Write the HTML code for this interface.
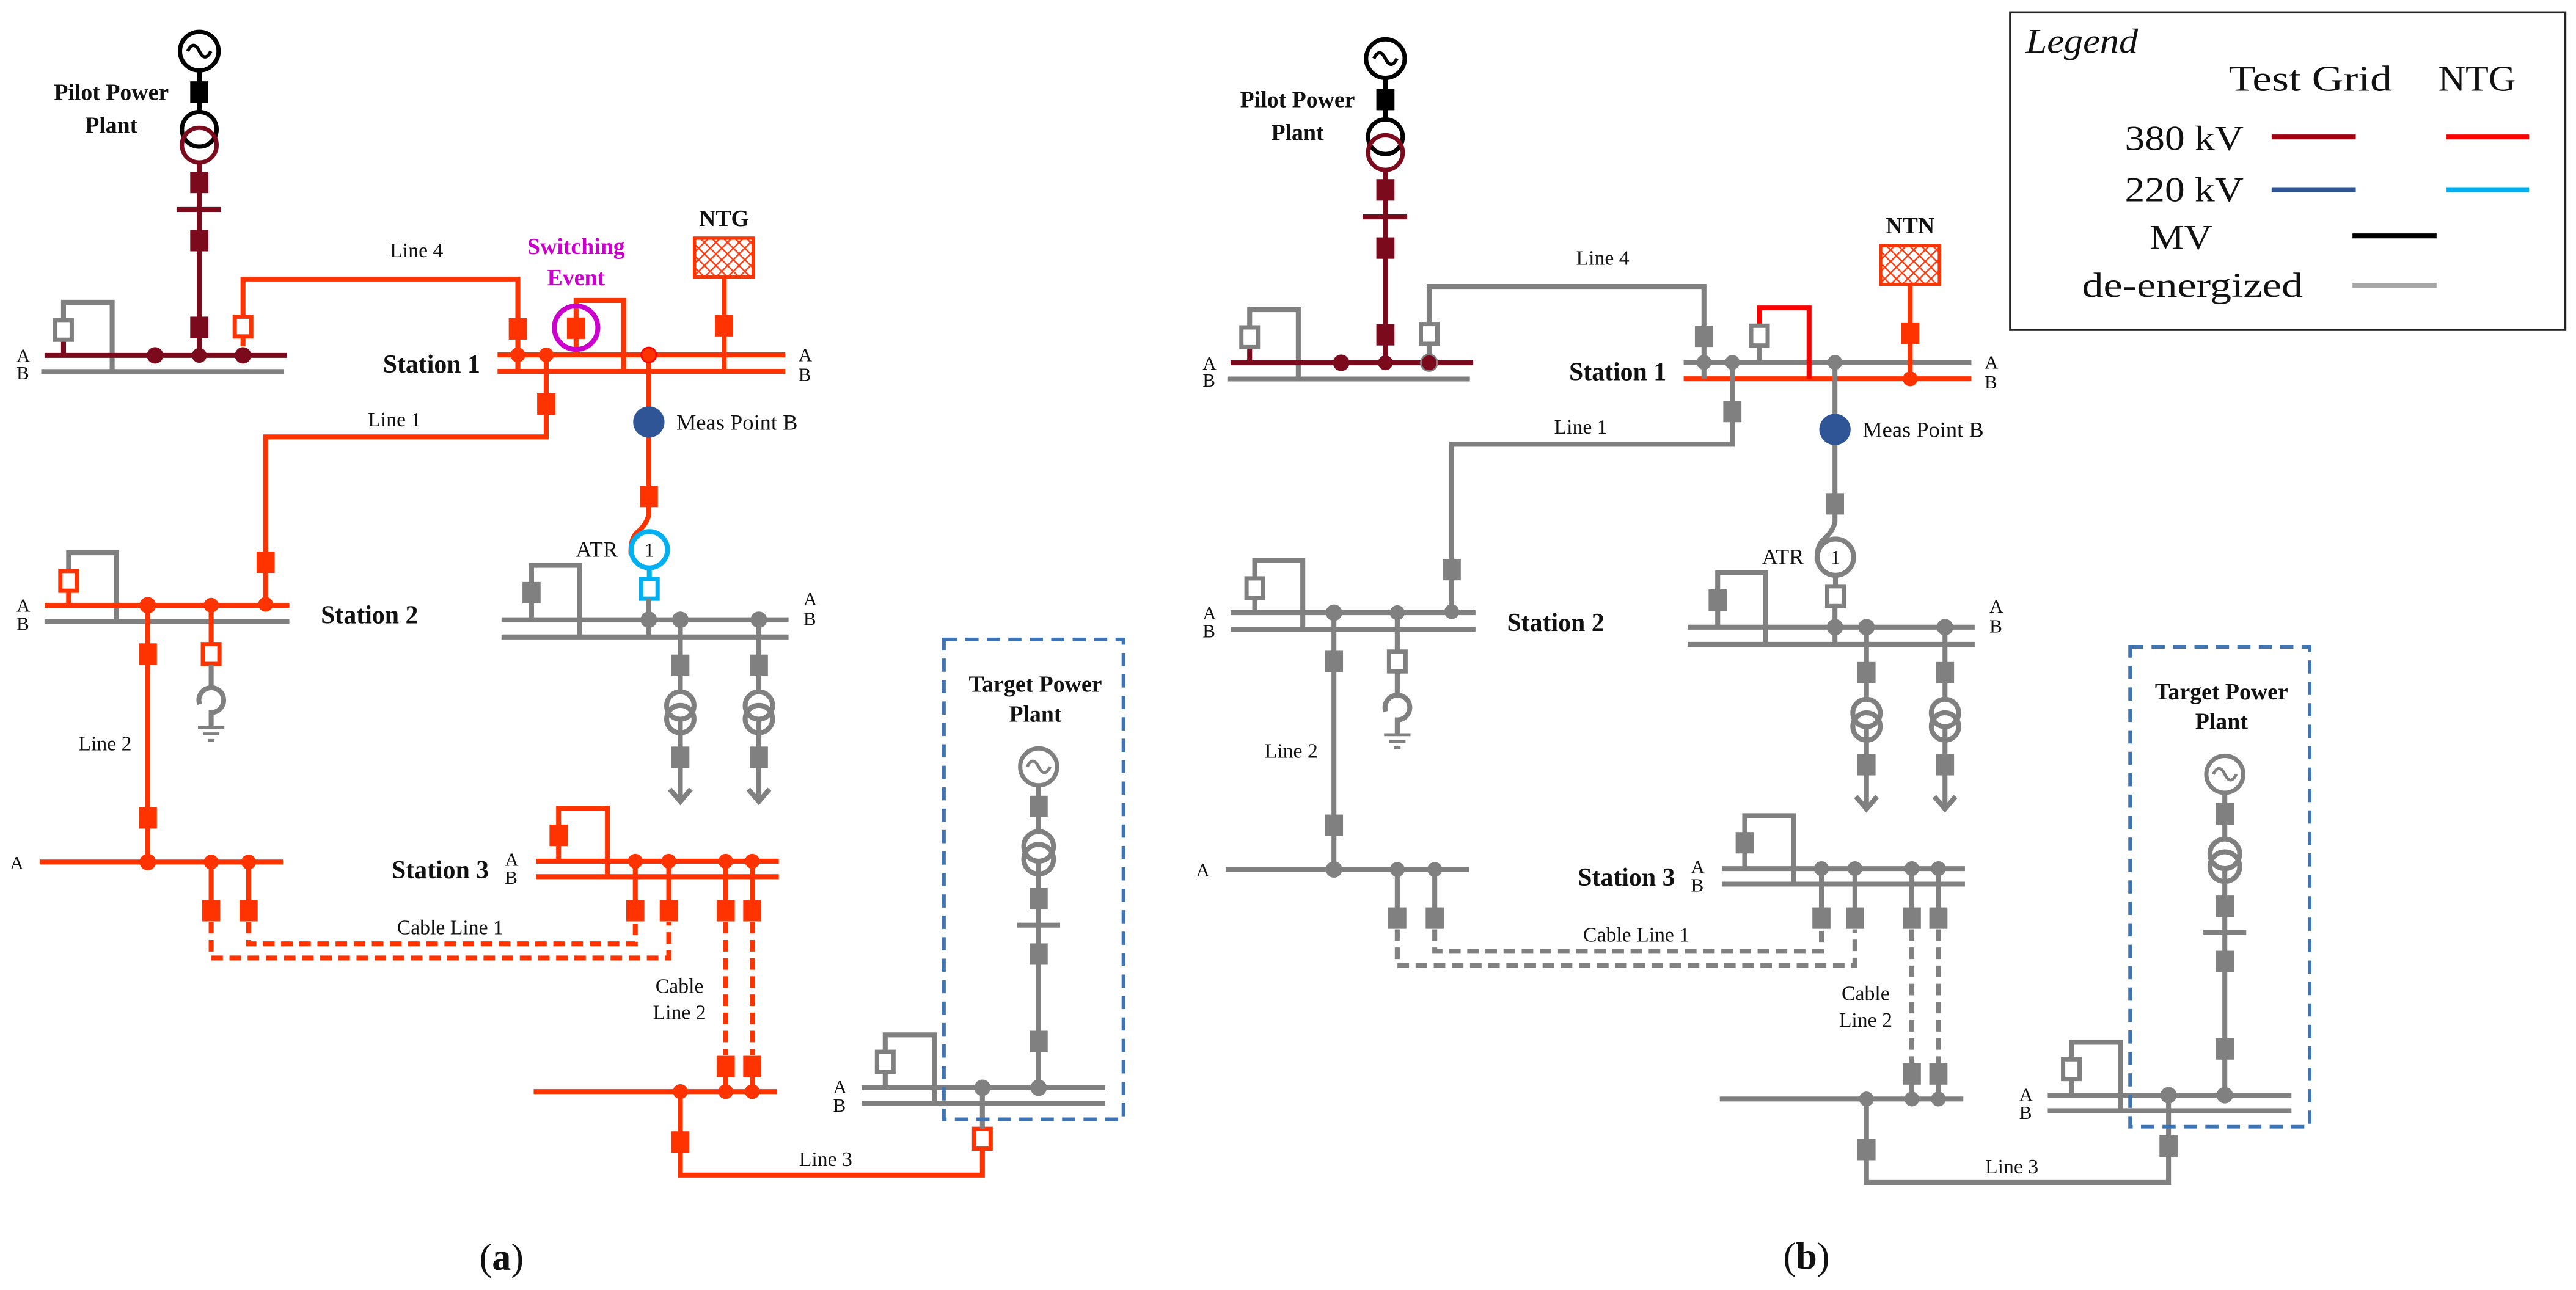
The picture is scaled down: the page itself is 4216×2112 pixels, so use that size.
<!DOCTYPE html>
<html><head><meta charset="utf-8"><style>
html,body{margin:0;padding:0;background:#fff;}
svg{display:block;}
text{font-family:"Liberation Serif",serif;fill:#111;}
.b{font-weight:bold;}
</style></head><body>
<svg width="4216" height="2112" viewBox="0 0 1561.5 782.2" xmlns="http://www.w3.org/2000/svg">
<defs>
<pattern id="hatch" width="7" height="7" patternUnits="userSpaceOnUse">
<path d="M0,0 L7,7 M7,0 L0,7" stroke="#ff3b10" stroke-width="0.9"/>
</pattern>
</defs>
<rect width="1561.5" height="782.2" fill="#fff"/>

<!-- ================= LEFT (a) ================= -->
<g id="left" stroke-width="3" fill="none">
<!-- Pilot -->
<circle cx="120.8" cy="31" r="11.7" stroke="#000" stroke-width="2.6"/>
<path d="M113.8,31 Q117.3,24 120.8,31 T127.8,31" stroke="#000" stroke-width="2"/>
<line x1="120.8" y1="43" x2="120.8" y2="68" stroke="#000"/>
<rect x="115.3" y="49.3" width="11" height="13" fill="#000" stroke="none"/>
<circle cx="120.8" cy="78.4" r="10.5" stroke="#000" stroke-width="2.6"/>
<circle cx="120.8" cy="88" r="10.5" stroke="#7b0a1c" stroke-width="2.6"/>
<line x1="120.8" y1="98.5" x2="120.8" y2="215.5" stroke="#7b0a1c"/>
<rect x="115.3" y="104.1" width="11" height="13" fill="#7b0a1c" stroke="none"/>
<rect x="115.3" y="139.4" width="11" height="13" fill="#7b0a1c" stroke="none"/>
<rect x="115.3" y="192" width="11" height="13" fill="#7b0a1c" stroke="none"/>
<line x1="107" y1="127" x2="134" y2="127" stroke="#7b0a1c"/>
<line x1="25" y1="225.3" x2="172" y2="225.3" stroke="#808080"/>
<path d="M38.5,194 V183.3 H68 V225.3" stroke="#808080"/>
<line x1="38.5" y1="206" x2="38.5" y2="215.5" stroke="#7b0a1c"/>
<rect x="33.5" y="194" width="10" height="12" fill="#fff" stroke="#808080" stroke-width="2.6"/>
<line x1="27" y1="215.5" x2="174" y2="215.5" stroke="#7b0a1c"/>
<circle cx="94" cy="215.5" r="5" fill="#7b0a1c" stroke="none"/>
<circle cx="120.8" cy="215.5" r="4.5" fill="#7b0a1c" stroke="none"/>
<circle cx="147.3" cy="215.5" r="5" fill="#7b0a1c" stroke="none"/>
<!-- Line 4 -->
<path d="M147.3,210 V169.2 H313.9 V215.2" stroke="#ff3300"/>
<rect x="142.3" y="192" width="10" height="12" fill="#fff" stroke="#ff3300" stroke-width="2.6"/>
<rect x="308.4" y="192.9" width="11" height="13" fill="#ff3300" stroke="none"/>
<!-- Station 1 -->
<line x1="301.6" y1="215.2" x2="476" y2="215.2" stroke="#ff3300"/>
<line x1="301.6" y1="225.2" x2="476" y2="225.2" stroke="#ff3300"/>
<line x1="313.9" y1="215" x2="313.9" y2="225.2" stroke="#ff3300"/>
<circle cx="313.9" cy="215.2" r="4.5" fill="#ff3300" stroke="none"/>
<circle cx="331.1" cy="215.2" r="4.5" fill="#ff3300" stroke="none"/>
<path d="M331.1,215.2 V264.9 H161 V366.4" stroke="#ff3300"/>
<rect x="325.6" y="238.5" width="11" height="13" fill="#ff3300" stroke="none"/>
<rect x="155.5" y="334.4" width="11" height="13" fill="#ff3300" stroke="none"/>
<path d="M349.2,215.2 V182.2 H378 V225.2" stroke="#ff3300"/>
<rect x="343.7" y="192.5" width="11" height="13" fill="#ff3300" stroke="none"/>
<circle cx="349.2" cy="198.7" r="13.2" stroke="#cc00cc" stroke-width="3"/>
<line x1="393.3" y1="215.2" x2="393.3" y2="307" stroke="#ff3300"/>
<circle cx="393.3" cy="215.2" r="4.5" fill="#ff3300" stroke="#ff0000" stroke-width="1"/>
<rect x="387.8" y="294.5" width="11" height="13" fill="#ff3300" stroke="none"/>
<path d="M393.3,307 V312 Q392,318 386,323 Q382,327 382.5,336" stroke="#ff3300"/>
<circle cx="393.6" cy="333.3" r="11" stroke="#00b0f0" stroke-width="3"/>
<line x1="393.6" y1="344" x2="393.6" y2="351" stroke="#00b0f0"/>
<rect x="388.6" y="351" width="10" height="12" fill="#fff" stroke="#00b0f0" stroke-width="2.6"/>
<line x1="393.3" y1="363" x2="393.3" y2="386.2" stroke="#808080"/>
<circle cx="393.3" cy="255.9" r="9.5" fill="#2f5597" stroke="none"/>
<!-- NTG -->
<rect x="421" y="144.4" width="35.6" height="23.5" fill="url(#hatch)" stroke="#ff3300" stroke-width="2"/>
<line x1="438.9" y1="168" x2="438.9" y2="225.2" stroke="#ff3300"/>
<rect x="433.4" y="191" width="11" height="13" fill="#ff3300" stroke="none"/>
<!-- Middle station (ATR) -->
<line x1="304" y1="375.8" x2="478" y2="375.8" stroke="#808080"/>
<line x1="304" y1="386.2" x2="478" y2="386.2" stroke="#808080"/>
<path d="M322.2,375.8 V342.8 H351.3 V386.2" stroke="#808080"/>
<rect x="316.7" y="352.9" width="11" height="13" fill="#808080" stroke="none"/>
<circle cx="393.3" cy="375.8" r="5" fill="#808080" stroke="none"/>
<circle cx="412.4" cy="375.8" r="5" fill="#808080" stroke="none"/>
<circle cx="460" cy="375.8" r="5" fill="#808080" stroke="none"/>
<g stroke="#808080">
<line x1="412.4" y1="375.8" x2="412.4" y2="485"/>
<rect x="406.9" y="396.9" width="11" height="13" fill="#808080" stroke="none"/>
<circle cx="412.4" cy="427.8" r="8.3" fill="#fff"/>
<circle cx="412.4" cy="436" r="8.3"/>
<rect x="406.9" y="452.7" width="11" height="13" fill="#808080" stroke="none"/>
<path d="M406,478.5 L412.4,486 L418.8,478.5"/>
<line x1="460" y1="375.8" x2="460" y2="485"/>
<rect x="454.5" y="396.9" width="11" height="13" fill="#808080" stroke="none"/>
<circle cx="460" cy="427.8" r="8.3" fill="#fff"/>
<circle cx="460" cy="436" r="8.3"/>
<rect x="454.5" y="452.7" width="11" height="13" fill="#808080" stroke="none"/>
<path d="M453.6,478.5 L460,486 L466.4,478.5"/>
</g>
<!-- Station 2 -->
<line x1="27" y1="377" x2="175.4" y2="377" stroke="#808080"/>
<path d="M41.6,346 V335.2 H70.7 V377" stroke="#808080"/>
<line x1="41.6" y1="358" x2="41.6" y2="367" stroke="#ff3300"/>
<rect x="36.6" y="346.2" width="10" height="12" fill="#fff" stroke="#ff3300" stroke-width="2.6"/>
<line x1="27" y1="367" x2="175.4" y2="367" stroke="#ff3300"/>
<circle cx="89.6" cy="367" r="5" fill="#ff3300" stroke="none"/>
<circle cx="128" cy="367" r="4.5" fill="#ff3300" stroke="none"/>
<circle cx="161" cy="366.4" r="4.5" fill="#ff3300" stroke="none"/>
<line x1="89.6" y1="367" x2="89.6" y2="522.7" stroke="#ff3300"/>
<rect x="84.1" y="390.1" width="11" height="13" fill="#ff3300" stroke="none"/>
<rect x="84.1" y="489.4" width="11" height="13" fill="#ff3300" stroke="none"/>
<line x1="128" y1="367" x2="128" y2="391" stroke="#ff3300"/>
<rect x="123" y="390.6" width="10" height="12" fill="#fff" stroke="#ff3300" stroke-width="2.6"/>
<path d="M128,403 V416 M121,427 A7.5,7.5 0 1 1 128,432 V441" stroke="#808080"/>
<path d="M120,441 H136 M123,445 H133 M126,449 H130" stroke="#808080" stroke-width="1.8"/>
<!-- bottom A bus -->
<line x1="24" y1="522.7" x2="171.5" y2="522.7" stroke="#ff3300"/>
<circle cx="89.6" cy="522.7" r="5" fill="#ff3300" stroke="none"/>
<circle cx="128" cy="522.7" r="4.5" fill="#ff3300" stroke="none"/>
<circle cx="150.7" cy="522.7" r="4.5" fill="#ff3300" stroke="none"/>
<line x1="128" y1="522.7" x2="128" y2="552" stroke="#ff3300"/>
<line x1="150.7" y1="522.7" x2="150.7" y2="552" stroke="#ff3300"/>
<rect x="122.5" y="545.7" width="11" height="13" fill="#ff3300" stroke="none"/>
<rect x="145.2" y="545.7" width="11" height="13" fill="#ff3300" stroke="none"/>
<g stroke="#ff3300" stroke-dasharray="7,4">
<path d="M128,559 V580.9 H405.4 V559"/>
<path d="M150.7,559 V572.3 H385.1 V559"/>
<line x1="439.9" y1="559" x2="439.9" y2="640"/>
<line x1="456" y1="559" x2="456" y2="640"/>
</g>
<!-- Station 3 -->
<line x1="324.8" y1="522.2" x2="472.1" y2="522.2" stroke="#ff3300"/>
<line x1="324.8" y1="531.6" x2="472.1" y2="531.6" stroke="#ff3300"/>
<path d="M338.6,522.2 V490.1 H368.2 V531.6" stroke="#ff3300"/>
<rect x="333.1" y="500" width="11" height="13" fill="#ff3300" stroke="none"/>
<g fill="#ff3300" stroke="none">
<circle cx="385.1" cy="522.2" r="4.5"/><circle cx="405.4" cy="522.2" r="4.5"/>
<circle cx="439.9" cy="522.2" r="4.5"/><circle cx="456" cy="522.2" r="4.5"/>
<rect x="379.6" y="545.7" width="11" height="13"/><rect x="399.9" y="545.7" width="11" height="13"/>
<rect x="434.4" y="545.7" width="11" height="13"/><rect x="450.5" y="545.7" width="11" height="13"/>
<rect x="434.4" y="640.2" width="11" height="13"/><rect x="450.5" y="640.2" width="11" height="13"/>
</g>
<g stroke="#ff3300">
<line x1="385.1" y1="522.2" x2="385.1" y2="552"/><line x1="405.4" y1="522.2" x2="405.4" y2="552"/>
<line x1="439.9" y1="522.2" x2="439.9" y2="552"/><line x1="456" y1="522.2" x2="456" y2="552"/>
<line x1="439.9" y1="650" x2="439.9" y2="661.9"/><line x1="456" y1="650" x2="456" y2="661.9"/>
<line x1="323.5" y1="661.9" x2="471.1" y2="661.9"/>
<path d="M412.4,661.9 V712.5 H595.5 V696"/>
</g>
<g fill="#ff3300" stroke="none">
<circle cx="412.4" cy="661.9" r="4.5"/><circle cx="439.9" cy="661.9" r="4.5"/><circle cx="456" cy="661.9" r="4.5"/>
<rect x="406.9" y="686" width="11" height="13"/>
</g>
<rect x="590.5" y="684.5" width="10" height="12" fill="#fff" stroke="#ff3300" stroke-width="2.6"/>
<!-- Target -->
<line x1="595.5" y1="659.6" x2="595.5" y2="684.5" stroke="#808080"/>
<line x1="522.3" y1="659.6" x2="670" y2="659.6" stroke="#808080"/>
<line x1="522.3" y1="669" x2="670" y2="669" stroke="#808080"/>
<path d="M536.6,659.6 V627.5 H566.4 V669" stroke="#808080"/>
<rect x="531.6" y="637.8" width="10" height="12" fill="#fff" stroke="#808080" stroke-width="2.6"/>
<circle cx="595.5" cy="659.6" r="5" fill="#808080" stroke="none"/>
<circle cx="629.6" cy="659.6" r="5" fill="#808080" stroke="none"/>
<g stroke="#808080">
<circle cx="629.6" cy="465" r="11.2" stroke-width="2.6"/>
<path d="M622.6,465 Q626.1,458 629.6,465 T636.6,465" stroke-width="1.8"/>
<line x1="629.6" y1="476" x2="629.6" y2="659.6"/>
<rect x="624.1" y="482.5" width="11" height="13" fill="#808080" stroke="none"/>
<circle cx="629.6" cy="513.2" r="9" fill="#fff"/>
<circle cx="629.6" cy="521" r="9"/>
<rect x="624.1" y="538.5" width="11" height="13" fill="#808080" stroke="none"/>
<line x1="616.6" y1="561" x2="642.6" y2="561"/>
<rect x="624.1" y="572" width="11" height="13" fill="#808080" stroke="none"/>
<rect x="624.1" y="625" width="11" height="13" fill="#808080" stroke="none"/>
</g>
<rect x="572.2" y="387.7" width="108.8" height="291" stroke="#3f74b3" stroke-width="2.2" stroke-dasharray="8,5"/>
</g>
<g font-size="12.5">
<text x="67.5" y="60.5" text-anchor="middle" class="b" font-size="14">Pilot Power</text>
<text x="67.5" y="80.5" text-anchor="middle" class="b" font-size="14">Plant</text>
<text x="236.4" y="156">Line 4</text>
<text x="349.2" y="154" text-anchor="middle" class="b" font-size="14" style="fill:#cc00cc">Switching</text>
<text x="349.2" y="173" text-anchor="middle" class="b" font-size="14" style="fill:#cc00cc">Event</text>
<text x="438.9" y="137" text-anchor="middle" class="b" font-size="14">NTG</text>
<text x="261.6" y="226" text-anchor="middle" class="b" font-size="15.5">Station 1</text>
<text x="484" y="219" font-size="11.5">A</text><text x="484" y="231" font-size="11.5">B</text>
<text x="10" y="219.5" font-size="11.5">A</text><text x="10" y="230" font-size="11.5">B</text>
<text x="239.2" y="258.5" text-anchor="middle">Line 1</text>
<text x="410" y="260.5" font-size="13.5">Meas Point B</text>
<text x="349" y="337.5" font-size="13.5">ATR</text>
<text x="393.6" y="337.5" text-anchor="middle" font-size="12">1</text>
<text x="487" y="367" font-size="11.5">A</text><text x="487" y="379" font-size="11.5">B</text>
<text x="10" y="371" font-size="11.5">A</text><text x="10" y="382" font-size="11.5">B</text>
<text x="224" y="378" text-anchor="middle" class="b" font-size="15.5">Station 2</text>
<text x="63.7" y="455" text-anchor="middle">Line 2</text>
<text x="6" y="527" font-size="11.5">A</text>
<text x="266.9" y="532.5" text-anchor="middle" class="b" font-size="15.5">Station 3</text>
<text x="306" y="525" font-size="11.5">A</text><text x="306" y="536" font-size="11.5">B</text>
<text x="272.9" y="566.5" text-anchor="middle">Cable Line 1</text>
<text x="411.9" y="602" text-anchor="middle">Cable</text>
<text x="411.9" y="618" text-anchor="middle">Line 2</text>
<text x="505" y="663" font-size="11.5">A</text><text x="505" y="674" font-size="11.5">B</text>
<text x="500.5" y="707" text-anchor="middle">Line 3</text>
<text x="627.6" y="419.5" text-anchor="middle" class="b" font-size="14">Target Power</text>
<text x="627.6" y="437.5" text-anchor="middle" class="b" font-size="14">Plant</text>
<text x="304" y="770" text-anchor="middle" font-size="23">(<tspan font-weight="bold">a</tspan>)</text>
</g>

<!-- ================= RIGHT (b) ================= -->
<g transform="translate(719,4.5)">
<g stroke-width="3" fill="none">
<circle cx="120.8" cy="31" r="11.7" stroke="#000" stroke-width="2.6"/>
<path d="M113.8,31 Q117.3,24 120.8,31 T127.8,31" stroke="#000" stroke-width="2"/>
<line x1="120.8" y1="43" x2="120.8" y2="68" stroke="#000"/>
<rect x="115.3" y="49.3" width="11" height="13" fill="#000" stroke="none"/>
<circle cx="120.8" cy="78.4" r="10.5" stroke="#000" stroke-width="2.6"/>
<circle cx="120.8" cy="88" r="10.5" stroke="#7b0a1c" stroke-width="2.6"/>
<line x1="120.8" y1="98.5" x2="120.8" y2="215.5" stroke="#7b0a1c"/>
<rect x="115.3" y="104.1" width="11" height="13" fill="#7b0a1c" stroke="none"/>
<rect x="115.3" y="139.4" width="11" height="13" fill="#7b0a1c" stroke="none"/>
<rect x="115.3" y="192" width="11" height="13" fill="#7b0a1c" stroke="none"/>
<line x1="107" y1="127" x2="134" y2="127" stroke="#7b0a1c"/>
<line x1="25" y1="225.3" x2="172" y2="225.3" stroke="#808080"/>
<path d="M38.5,194 V183.3 H68 V225.3" stroke="#808080"/>
<line x1="38.5" y1="206" x2="38.5" y2="215.5" stroke="#7b0a1c"/>
<rect x="33.5" y="194" width="10" height="12" fill="#fff" stroke="#808080" stroke-width="2.6"/>
<line x1="27" y1="215.5" x2="174" y2="215.5" stroke="#7b0a1c"/>
<circle cx="94" cy="215.5" r="5" fill="#7b0a1c" stroke="none"/>
<circle cx="120.8" cy="215.5" r="4.5" fill="#7b0a1c" stroke="none"/>
<circle cx="147.3" cy="215.5" r="5" fill="#7b0a1c" stroke="#808080" stroke-width="1"/>
<path d="M147.3,210 V169.2 H313.9 V215.2" stroke="#808080"/>
<rect x="142.3" y="192" width="10" height="12" fill="#fff" stroke="#808080" stroke-width="2.6"/>
<rect x="308.4" y="192.9" width="11" height="13" fill="#808080" stroke="none"/>
<line x1="301.6" y1="215.2" x2="476" y2="215.2" stroke="#808080"/>
<line x1="301.6" y1="225.2" x2="476" y2="225.2" stroke="#ff3300"/>
<line x1="313.9" y1="215" x2="313.9" y2="225.2" stroke="#808080"/>
<circle cx="313.9" cy="215.2" r="4.5" fill="#808080" stroke="none"/>
<circle cx="331.1" cy="215.2" r="4.5" fill="#808080" stroke="none"/>
<path d="M331.1,215.2 V264.9 H161 V366.4" stroke="#808080"/>
<rect x="325.6" y="238.5" width="11" height="13" fill="#808080" stroke="none"/>
<rect x="155.5" y="334.4" width="11" height="13" fill="#808080" stroke="none"/>
<path d="M347.5,193 V182.2 H377.6 V225.2" stroke="#ff0000"/>
<line x1="347.5" y1="204" x2="347.5" y2="215.2" stroke="#808080"/>
<rect x="342.5" y="193" width="10" height="12" fill="#fff" stroke="#808080" stroke-width="2.6"/>
<line x1="393.3" y1="215.2" x2="393.3" y2="307" stroke="#808080"/>
<circle cx="393.3" cy="215.2" r="4.5" fill="#808080" stroke="none"/>
<rect x="387.8" y="294.5" width="11" height="13" fill="#808080" stroke="none"/>
<path d="M393.3,307 V312 Q392,318 386,323 Q382,327 382.5,336" stroke="#808080"/>
<circle cx="393.6" cy="333.3" r="11" stroke="#808080" stroke-width="3"/>
<line x1="393.6" y1="344" x2="393.6" y2="351" stroke="#808080"/>
<rect x="388.6" y="351" width="10" height="12" fill="#fff" stroke="#808080" stroke-width="2.6"/>
<line x1="393.3" y1="363" x2="393.3" y2="386.2" stroke="#808080"/>
<circle cx="393.3" cy="255.9" r="9.5" fill="#2f5597" stroke="none"/>
<rect x="421" y="144.4" width="35.6" height="23.5" fill="url(#hatch)" stroke="#ff3300" stroke-width="2"/>
<line x1="438.9" y1="168" x2="438.9" y2="225.2" stroke="#ff3300"/>
<rect x="433.4" y="191" width="11" height="13" fill="#ff3300" stroke="none"/>
<circle cx="438.9" cy="225.2" r="4.5" fill="#ff3300" stroke="none"/>
<line x1="304" y1="375.8" x2="478" y2="375.8" stroke="#808080"/>
<line x1="304" y1="386.2" x2="478" y2="386.2" stroke="#808080"/>
<path d="M322.2,375.8 V342.8 H351.3 V386.2" stroke="#808080"/>
<rect x="316.7" y="352.9" width="11" height="13" fill="#808080" stroke="none"/>
<circle cx="393.3" cy="375.8" r="5" fill="#808080" stroke="none"/>
<circle cx="412.4" cy="375.8" r="5" fill="#808080" stroke="none"/>
<circle cx="460" cy="375.8" r="5" fill="#808080" stroke="none"/>
<g stroke="#808080">
<line x1="412.4" y1="375.8" x2="412.4" y2="485"/>
<rect x="406.9" y="396.9" width="11" height="13" fill="#808080" stroke="none"/>
<circle cx="412.4" cy="427.8" r="8.3" fill="#fff"/>
<circle cx="412.4" cy="436" r="8.3"/>
<rect x="406.9" y="452.7" width="11" height="13" fill="#808080" stroke="none"/>
<path d="M406,478.5 L412.4,486 L418.8,478.5"/>
<line x1="460" y1="375.8" x2="460" y2="485"/>
<rect x="454.5" y="396.9" width="11" height="13" fill="#808080" stroke="none"/>
<circle cx="460" cy="427.8" r="8.3" fill="#fff"/>
<circle cx="460" cy="436" r="8.3"/>
<rect x="454.5" y="452.7" width="11" height="13" fill="#808080" stroke="none"/>
<path d="M453.6,478.5 L460,486 L466.4,478.5"/>
</g>
<g stroke="#808080">
<line x1="27" y1="377" x2="175.4" y2="377"/>
<path d="M41.6,346 V335.2 H70.7 V377"/>
<line x1="41.6" y1="358" x2="41.6" y2="367"/>
<line x1="27" y1="367" x2="175.4" y2="367"/>
<line x1="89.6" y1="367" x2="89.6" y2="522.7"/>
<line x1="128" y1="367" x2="128" y2="391"/>
<path d="M128,403 V416 M121,427 A7.5,7.5 0 1 1 128,432 V441"/>
<path d="M120,441 H136 M123,445 H133 M126,449 H130" stroke-width="1.8"/>
<line x1="24" y1="522.7" x2="171.5" y2="522.7"/>
<line x1="128" y1="522.7" x2="128" y2="552"/>
<line x1="150.7" y1="522.7" x2="150.7" y2="552"/>
<line x1="324.8" y1="522.2" x2="472.1" y2="522.2"/>
<line x1="324.8" y1="531.6" x2="472.1" y2="531.6"/>
<path d="M338.6,522.2 V490.1 H368.2 V531.6"/>
<line x1="385.1" y1="522.2" x2="385.1" y2="552"/><line x1="405.4" y1="522.2" x2="405.4" y2="552"/>
<line x1="439.9" y1="522.2" x2="439.9" y2="552"/><line x1="456" y1="522.2" x2="456" y2="552"/>
<line x1="439.9" y1="650" x2="439.9" y2="661.9"/><line x1="456" y1="650" x2="456" y2="661.9"/>
<line x1="323.5" y1="661.9" x2="471.1" y2="661.9"/>
<path d="M412.4,661.9 V712.5 H595.5 V659.6"/>
<line x1="522.3" y1="659.6" x2="670" y2="659.6"/>
<line x1="522.3" y1="669" x2="670" y2="669"/>
<path d="M536.6,659.6 V627.5 H566.4 V669"/>
</g>
<rect x="36.6" y="346.2" width="10" height="12" fill="#fff" stroke="#808080" stroke-width="2.6"/>
<rect x="123" y="390.6" width="10" height="12" fill="#fff" stroke="#808080" stroke-width="2.6"/>
<rect x="531.6" y="637.8" width="10" height="12" fill="#fff" stroke="#808080" stroke-width="2.6"/>
<g stroke="#808080" stroke-dasharray="7,4">
<path d="M128,559 V580.9 H405.4 V559"/>
<path d="M150.7,559 V572.3 H385.1 V559"/>
<line x1="439.9" y1="559" x2="439.9" y2="640"/>
<line x1="456" y1="559" x2="456" y2="640"/>
</g>
<g fill="#808080" stroke="none">
<circle cx="89.6" cy="367" r="5"/><circle cx="128" cy="367" r="4.5"/><circle cx="161" cy="366.4" r="4.5"/>
<rect x="84.1" y="390.1" width="11" height="13"/><rect x="84.1" y="489.4" width="11" height="13"/>
<circle cx="89.6" cy="522.7" r="5"/><circle cx="128" cy="522.7" r="4.5"/><circle cx="150.7" cy="522.7" r="4.5"/>
<rect x="122.5" y="545.7" width="11" height="13"/><rect x="145.2" y="545.7" width="11" height="13"/>
<rect x="333.1" y="500" width="11" height="13"/>
<circle cx="385.1" cy="522.2" r="4.5"/><circle cx="405.4" cy="522.2" r="4.5"/>
<circle cx="439.9" cy="522.2" r="4.5"/><circle cx="456" cy="522.2" r="4.5"/>
<rect x="379.6" y="545.7" width="11" height="13"/><rect x="399.9" y="545.7" width="11" height="13"/>
<rect x="434.4" y="545.7" width="11" height="13"/><rect x="450.5" y="545.7" width="11" height="13"/>
<rect x="434.4" y="640.2" width="11" height="13"/><rect x="450.5" y="640.2" width="11" height="13"/>
<circle cx="412.4" cy="661.9" r="4.5"/><circle cx="439.9" cy="661.9" r="4.5"/><circle cx="456" cy="661.9" r="4.5"/>
<rect x="406.9" y="686" width="11" height="13"/>
<rect x="590" y="684" width="11" height="13"/>
<circle cx="595.5" cy="659.6" r="5"/><circle cx="629.6" cy="659.6" r="5"/>
</g>
<g stroke="#808080">
<circle cx="629.6" cy="465" r="11.2" stroke-width="2.6"/>
<path d="M622.6,465 Q626.1,458 629.6,465 T636.6,465" stroke-width="1.8"/>
<line x1="629.6" y1="476" x2="629.6" y2="659.6"/>
<rect x="624.1" y="482.5" width="11" height="13" fill="#808080" stroke="none"/>
<circle cx="629.6" cy="513.2" r="9" fill="#fff"/>
<circle cx="629.6" cy="521" r="9"/>
<rect x="624.1" y="538.5" width="11" height="13" fill="#808080" stroke="none"/>
<line x1="616.6" y1="561" x2="642.6" y2="561"/>
<rect x="624.1" y="572" width="11" height="13" fill="#808080" stroke="none"/>
<rect x="624.1" y="625" width="11" height="13" fill="#808080" stroke="none"/>
</g>
<rect x="572.2" y="387.7" width="108.8" height="291" stroke="#3f74b3" stroke-width="2.2" stroke-dasharray="8,5"/>
</g>
<g font-size="12.5">
<text x="67.5" y="60.5" text-anchor="middle" class="b" font-size="14">Pilot Power</text>
<text x="67.5" y="80.5" text-anchor="middle" class="b" font-size="14">Plant</text>
<text x="236.4" y="156">Line 4</text>
<text x="438.9" y="137" text-anchor="middle" class="b" font-size="14">NTN</text>
<text x="261.6" y="226" text-anchor="middle" class="b" font-size="15.5">Station 1</text>
<text x="484" y="219" font-size="11.5">A</text><text x="484" y="231" font-size="11.5">B</text>
<text x="10" y="219.5" font-size="11.5">A</text><text x="10" y="230" font-size="11.5">B</text>
<text x="239.2" y="258.5" text-anchor="middle">Line 1</text>
<text x="410" y="260.5" font-size="13.5">Meas Point B</text>
<text x="349" y="337.5" font-size="13.5">ATR</text>
<text x="393.6" y="337.5" text-anchor="middle" font-size="12">1</text>
<text x="487" y="367" font-size="11.5">A</text><text x="487" y="379" font-size="11.5">B</text>
<text x="10" y="371" font-size="11.5">A</text><text x="10" y="382" font-size="11.5">B</text>
<text x="224" y="378" text-anchor="middle" class="b" font-size="15.5">Station 2</text>
<text x="63.7" y="455" text-anchor="middle">Line 2</text>
<text x="6" y="527" font-size="11.5">A</text>
<text x="266.9" y="532.5" text-anchor="middle" class="b" font-size="15.5">Station 3</text>
<text x="306" y="525" font-size="11.5">A</text><text x="306" y="536" font-size="11.5">B</text>
<text x="272.9" y="566.5" text-anchor="middle">Cable Line 1</text>
<text x="411.9" y="602" text-anchor="middle">Cable</text>
<text x="411.9" y="618" text-anchor="middle">Line 2</text>
<text x="505" y="663" font-size="11.5">A</text><text x="505" y="674" font-size="11.5">B</text>
<text x="500.5" y="707" text-anchor="middle">Line 3</text>
<text x="627.6" y="419.5" text-anchor="middle" class="b" font-size="14">Target Power</text>
<text x="627.6" y="437.5" text-anchor="middle" class="b" font-size="14">Plant</text>
<text x="376" y="765" text-anchor="middle" font-size="23">(<tspan font-weight="bold">b</tspan>)</text>
</g>
</g>

<!-- ================= LEGEND ================= -->
<rect x="1218.5" y="7.5" width="336.5" height="192.5" fill="#fff" stroke="#222" stroke-width="1.3"/>
<text x="1228" y="32" font-size="21" font-style="italic" textLength="68" lengthAdjust="spacingAndGlyphs">Legend</text>
<text x="1351" y="55" font-size="22" textLength="99" lengthAdjust="spacingAndGlyphs">Test Grid</text>
<text x="1478" y="55" font-size="22" textLength="47" lengthAdjust="spacingAndGlyphs">NTG</text>
<text x="1288" y="91" font-size="21" textLength="72" lengthAdjust="spacingAndGlyphs">380 kV</text>
<text x="1288" y="122" font-size="21" textLength="72" lengthAdjust="spacingAndGlyphs">220 kV</text>
<text x="1303" y="151" font-size="21" textLength="38" lengthAdjust="spacingAndGlyphs">MV</text>
<text x="1262" y="180" font-size="21" textLength="134" lengthAdjust="spacingAndGlyphs">de-energized</text>
<g stroke-width="3">
<line x1="1377" y1="83" x2="1428" y2="83" stroke="#a00010"/>
<line x1="1483" y1="83" x2="1533" y2="83" stroke="#ff0000"/>
<line x1="1377" y1="115" x2="1428" y2="115" stroke="#2f5597"/>
<line x1="1483" y1="115" x2="1533" y2="115" stroke="#00b0f0"/>
<line x1="1426" y1="143" x2="1477" y2="143" stroke="#000"/>
<line x1="1426" y1="173" x2="1477" y2="173" stroke="#a6a6a6"/>
</g>
</svg>
</body></html>
